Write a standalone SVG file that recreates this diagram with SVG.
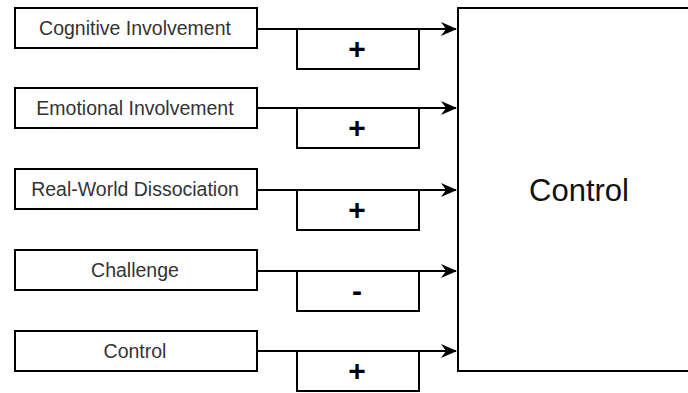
<svg xmlns="http://www.w3.org/2000/svg" width="688" height="393" viewBox="0 0 688 393">
<style>
.box{fill:#fff;stroke:#000;stroke-width:2}
.lbl{font-family:"Liberation Sans",Arial,sans-serif;font-size:19.5px;fill:#333;text-anchor:middle;dominant-baseline:central}
.sign{font-family:"Liberation Sans",Arial,sans-serif;font-size:30px;font-weight:bold;fill:#000;text-anchor:middle;dominant-baseline:central}
.big{font-family:"Liberation Sans",Arial,sans-serif;font-size:31px;fill:#111;text-anchor:middle;dominant-baseline:central}
.conn{stroke:#000;stroke-width:2;fill:none}
</style>
<defs>
<marker id="arr" markerWidth="16" markerHeight="14" refX="15" refY="7" orient="auto" markerUnits="userSpaceOnUse">
<path d="M0,0 L16,7 L0,14 L5,7 Z" fill="#000"/>
</marker>
</defs>
<rect width="688" height="393" fill="#fff"/>
<g id="target"><rect class="box" x="458" y="8" width="250" height="363"/><text class="big" x="579" y="190">Control</text></g>
<g id="n1"><rect class="box" x="15" y="8" width="242" height="40"/><text class="lbl" x="135" y="28">Cognitive Involvement</text></g>
<g id="n2"><rect class="box" x="15" y="88" width="242" height="40"/><text class="lbl" x="135" y="108">Emotional Involvement</text></g>
<g id="n3"><rect class="box" x="15" y="169" width="242" height="40"/><text class="lbl" x="135" y="189">Real-World Dissociation</text></g>
<g id="n4"><rect class="box" x="15" y="250" width="242" height="40"/><text class="lbl" x="135" y="270">Challenge</text></g>
<g id="n5"><rect class="box" x="15" y="331" width="242" height="40"/><text class="lbl" x="135" y="351">Control</text></g>
<g id="connectors">
<path class="conn" d="M257,29 H456" marker-end="url(#arr)"/>
<path class="conn" d="M257,108 H456" marker-end="url(#arr)"/>
<path class="conn" d="M257,190 H456" marker-end="url(#arr)"/>
<path class="conn" d="M257,271 H456" marker-end="url(#arr)"/>
<path class="conn" d="M257,351 H456" marker-end="url(#arr)"/>
</g>
<g id="s1"><rect class="box" x="297" y="29" width="122" height="40"/><text class="sign" x="357" y="48">+</text></g>
<g id="s2"><rect class="box" x="297" y="108" width="122" height="40"/><text class="sign" x="357" y="127">+</text></g>
<g id="s3"><rect class="box" x="297" y="190" width="122" height="40"/><text class="sign" x="357" y="209">+</text></g>
<g id="s4"><rect class="box" x="297" y="271" width="122" height="40"/><text class="sign" x="357" y="290">-</text></g>
<g id="s5"><rect class="box" x="297" y="351" width="122" height="40"/><text class="sign" x="357" y="370">+</text></g>
</svg>
